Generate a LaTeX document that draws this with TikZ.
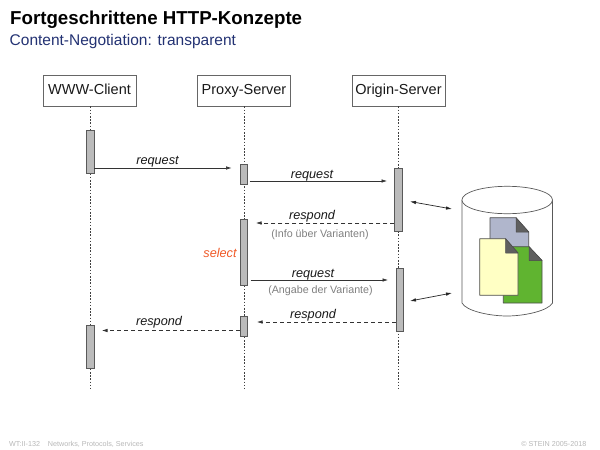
\documentclass[tikz,border=0pt]{standalone}
\usepackage{fontspec}
\setmainfont{Liberation Sans}
\usetikzlibrary{arrows.meta}
\definecolor{titleblue}{RGB}{35,50,115}
\definecolor{actgray}{RGB}{187,187,187}
\definecolor{foldgray}{RGB}{95,95,95}
\definecolor{docblue}{RGB}{176,182,204}
\definecolor{docgreen}{RGB}{96,180,48}
\definecolor{docyellow}{RGB}{255,255,196}
\definecolor{selorange}{RGB}{240,90,40}
\tikzset{
  x=1pt,y=-1pt,
  actor/.style={draw=black!60,line width=0.7pt,fill=white,minimum width=93pt,minimum height=31pt,inner sep=0pt,text height=10.5pt,text depth=3pt,font=\fontsize{14.5}{16}\selectfont,text=black!90},
  lifeline/.style={draw=black!75,line width=0.6pt,dash pattern=on 1.6pt off 1.6pt},
  activation/.style={draw=black!65,line width=0.8pt,fill=actgray,inner sep=0pt},
  msg/.style={draw=black!80,line width=0.6pt,-{Latex[length=5.5pt,width=3.5pt]}},
  reply/.style={msg,dash pattern=on 4pt off 3pt},
  dbarrow/.style={draw=black!85,line width=0.7pt,{Latex[length=6pt,width=3.5pt]}-{Latex[length=6pt,width=3.5pt]}},
  msglabel/.style={inner sep=0pt,anchor=base,font=\fontsize{12.7}{15}\selectfont\itshape,text=black!90},
  sublabel/.style={inner sep=0pt,anchor=base,font=\fontsize{10.7}{12}\selectfont,text=black!50},
  footer/.style={inner sep=0pt,font=\fontsize{7.2}{8}\selectfont,text=black!28},
  docshape/.style={draw=black!70,line width=0.8pt,line join=round},
  fold/.style={fill=foldgray,draw=black!70,line width=0.5pt,line join=round}
}
\begin{document}
\begin{tikzpicture}
\useasboundingbox (0,0) rectangle (600,450);
\fill[white] (0,0) rectangle (600,450);
% titles
\node[anchor=base west,inner sep=0pt,font=\fontsize{18.7}{22}\bfseries\selectfont] (title) at (10,24.5) {Fortgeschrittene HTTP-Konzepte};
\node[anchor=base west,inner sep=0pt,font=\fontsize{15.5}{18}\selectfont,text=titleblue] (subtitle) at (9.5,45) {Content-Negotiation: transparent};
% actors
\node[actor] (client) at (89.5,90.5) {WWW-Client};
\node[actor] (proxy) at (244,90.5) {Proxy-Server};
\node[actor] (origin) at (398.5,90.5) {Origin-Server};
% lifeline ends
\coordinate (clientend) at (90,388);
\coordinate (proxyend) at (244,388);
\coordinate (originend) at (398.5,388);
\draw[lifeline] (client.south -| clientend) -- (clientend);
\draw[lifeline] (proxy.south -| proxyend) -- (proxyend);
\draw[lifeline] (origin.south -| originend) -- (originend);
% activations
\node[activation,minimum width=7.7pt,minimum height=43pt] (c1) at (90.2,151.5) {};
\node[activation,minimum width=7.7pt,minimum height=43pt] (c2) at (90.2,346.5) {};
\node[activation,minimum width=7.7pt,minimum height=19.5pt] (p1) at (244,174.5) {};
\node[activation,minimum width=7.7pt,minimum height=66pt] (p2) at (244,252) {};
\node[activation,minimum width=7.7pt,minimum height=19.5pt] (p3) at (244,326.2) {};
\node[activation,minimum width=7.7pt,minimum height=63pt] (o1) at (398.5,200) {};
\node[activation,minimum width=7.7pt,minimum height=63pt] (o2) at (400,299.5) {};
% free ends of messages
\coordinate (a1) at (231.5,168);
\coordinate (a2) at (387,181);
\coordinate (a3) at (256,223);
\coordinate (a4) at (388,280);
\coordinate (a5) at (257,322);
\coordinate (a6) at (102,330.5);
\coordinate (s3) at (250.5,280);
\coordinate (s2) at (249.5,181);
\draw[msg] (c1.east |- a1) -- (a1);
\draw[msg] (s2) -- (a2);
\draw[reply] (o1.west |- a3) -- (a3);
\draw[msg] (s3) -- (a4);
\draw[reply] (o2.west |- a5) -- (a5);
\draw[reply] (p3.west |- a6) -- (a6);
% labels
\node[msglabel] (l1) at (157.5,164) {request};
\node[msglabel] (l2) at (312,178) {request};
\node[msglabel] (l3) at (312,219) {respond};
\node[sublabel] (l3b) at (320,237) {(Info über Varianten)};
\node[msglabel,text=selorange] (sel) at (220,257.5) {select};
\node[msglabel] (l4) at (313,277.5) {request};
\node[sublabel] (l4b) at (320.5,293) {(Angabe der Variante)};
\node[msglabel] (l5) at (313,318) {respond};
\node[msglabel] (l6) at (159,325) {respond};
% database
\draw[draw=black!65,line width=0.7pt,fill=white] (462,200) -- (462,303) .. controls (466,311) and (490,316) .. (507,316) .. controls (524,316) and (548,311) .. (552.5,303) -- (552.5,200);
\draw[draw=black!65,line width=0.7pt,fill=white] (507.2,200) ellipse [x radius=45.3,y radius=13.7];
\coordinate (dbtop) at (452,209);
\coordinate (dbbot) at (452,293);
\coordinate (dbc1) at (410,201.5);
\coordinate (dbc2) at (410,301);
\draw[dbarrow] (dbc1) -- (dbtop);
\draw[dbarrow] (dbc2) -- (dbbot);
% documents
\draw[docshape,fill=docblue] (490,217.7) -- (516,217.7) -- (528.7,232) -- (528.7,270) -- (490,270) -- cycle;
\draw[fold] (516,217.7) -- (528.7,232) -- (516,232) -- cycle;
\draw[docshape,fill=docgreen] (503.3,246.7) -- (529,246.7) -- (542,260.5) -- (542,303) -- (503.3,303) -- cycle;
\draw[fold] (529,246.7) -- (542,260.5) -- (529,260.5) -- cycle;
\draw[docshape,fill=docyellow] (479.7,238.7) -- (505.5,238.7) -- (518,253) -- (518,295.3) -- (479.7,295.3) -- cycle;
\draw[fold] (505.5,238.7) -- (518,253) -- (505.5,253) -- cycle;
% footer
\node[footer,anchor=base west] (f1) at (9,446.2) {WT:II-132};
\node[footer,anchor=base west] (f2) at (47.7,446.2) {Networks, Protocols, Services};
\node[footer,anchor=base east] (f3) at (586.5,446.2) {© STEIN 2005-2018};
\end{tikzpicture}
\end{document}
